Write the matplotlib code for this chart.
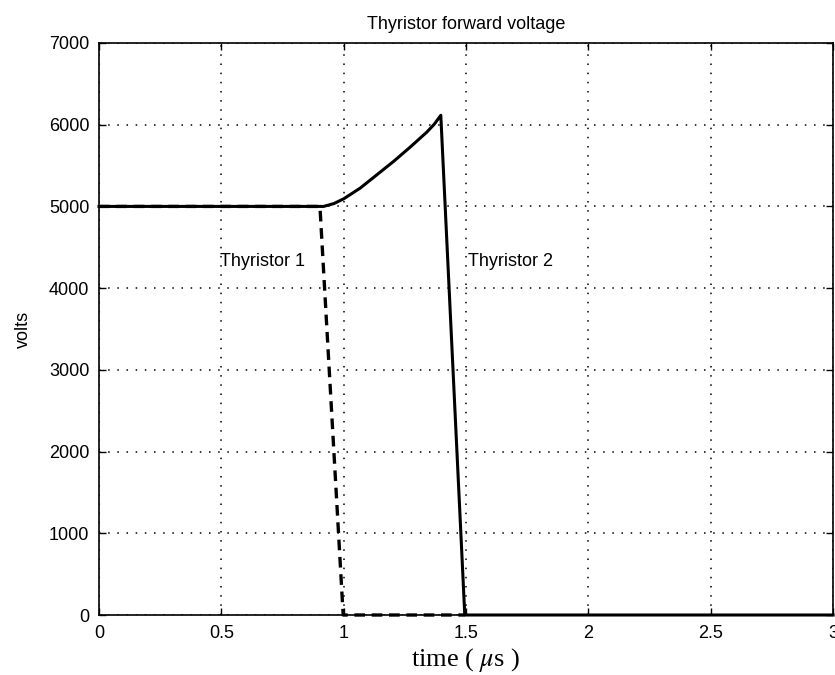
import matplotlib
matplotlib.use("Agg")
import matplotlib.pyplot as plt

plt.rcParams['font.family'] = ['Liberation Sans', 'DejaVu Sans']
plt.rcParams['mathtext.fontset'] = 'stix'

# Data (time in microseconds, volts)
t1_x = [0.0, 0.903, 0.998, 1.495]
t1_y = [5000, 5000, 0, 0]
t2_x = [0.0, 0.918, 0.96, 1.0, 1.068, 1.136, 1.204, 1.272, 1.340, 1.37, 1.397, 1.495, 3.0]
t2_y = [5000, 5000, 5035, 5093, 5225, 5388, 5551, 5726, 5910, 6005, 6115, 0, 0]

x_ticks = [0, 0.5, 1, 1.5, 2, 2.5, 3]
x_tick_labels = ['0', '0.5', '1', '1.5', '2', '2.5', '3']
y_ticks = [0, 1000, 2000, 3000, 4000, 5000, 6000, 7000]
y_tick_labels = ['0', '1000', '2000', '3000', '4000', '5000', '6000', '7000']

title_text = 'Thyristor forward voltage'
label_1 = 'Thyristor 1'
label_2 = 'Thyristor 2'

fig = plt.figure(figsize=(8.35, 6.75), dpi=100)
ax = fig.add_axes([99/835, 1 - 615/675, 734/835, 572/675])

line1, = ax.plot(t1_x, t1_y, color='black', lw=2.4, linestyle='--', clip_on=False, zorder=3)
line1.set_dashes((3.2, 2.0))
ax.plot(t2_x, t2_y, color='black', lw=2.2, solid_joinstyle='round', clip_on=False, zorder=4)

ax.set_xlim(0, 3)
ax.set_ylim(0, 7000)
ax.set_xticks(x_ticks)
ax.set_xticklabels(x_tick_labels)
ax.set_yticks(y_ticks)
ax.set_yticklabels(y_tick_labels)

ax.grid(True, color='black', linestyle=(0, (1, 5)), linewidth=1.1)
ax.tick_params(direction='in', length=5, width=1, top=True, right=True,
               labelsize=13, pad=7, colors='black')
for s in ax.spines.values():
    s.set_linewidth(1.2)

ax.text(0.495, 4326, label_1, fontsize=13, va='center', ha='left')
ax.text(1.508, 4326, label_2, fontsize=13, va='center', ha='left')

ax.set_title(title_text, fontsize=13, pad=10)
ax.set_ylabel('volts', fontsize=13, labelpad=12)
ax.set_xlabel(r'time ( $\mu$s )', fontsize=19, family='Liberation Serif', labelpad=3)

fig.savefig('out.png', dpi=100)
